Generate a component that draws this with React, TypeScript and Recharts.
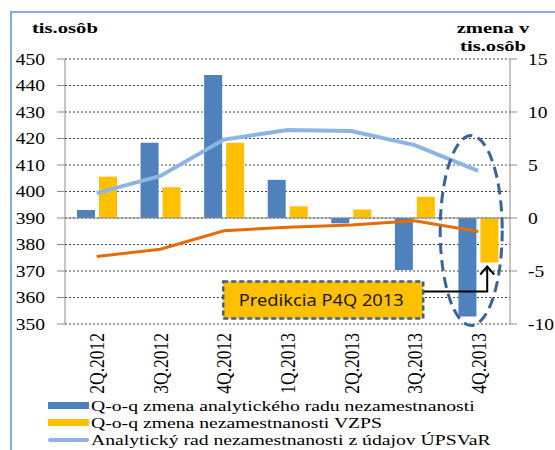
import React from "react";
import {
  ComposedChart,
  Bar,
  Line,
  XAxis,
  YAxis,
  CartesianGrid,
  Legend,
  ReferenceLine,
  ReferenceDot,
} from "recharts";

const kvartaly = ["2Q.2012", "3Q.2012", "4Q.2012", "1Q.2013", "2Q.2013", "3Q.2013", "4Q.2013"];
const zmenaAnalyticky = [0.75, 7.1, 13.5, 3.6, -0.5, -4.9, -9.3];
const zmenaVzps = [3.9, 2.9, 7.1, 1.1, 0.8, 2.0, -4.2];
const radAnalyticky = [399.4, 405.9, 419.6, 423.2, 422.8, 417.5, 407.8];
const radVzps = [375.5, 378.2, 385.2, 386.5, 387.4, 389.0, 384.9];

const lavyTicky = [350, 360, 370, 380, 390, 400, 410, 420, 430, 440, 450];
const pravyTicky = [-10, -5, 0, 5, 10, 15];

const legenda = [
  { label: "Q-o-q zmena analytického radu nezamestnanosti", farba: "#4F81BD", typ: "bar" },
  { label: "Q-o-q zmena nezamestnanosti VZPS", farba: "#FFC000", typ: "bar" },
  { label: "Analytický rad nezamestnanosti z údajov ÚPSVaR", farba: "#8EB4E3", typ: "line" },
];

const data = kvartaly.map((k, i) => ({
  kvartal: k,
  zmenaAnalyticky: zmenaAnalyticky[i],
  zmenaVzps: zmenaVzps[i],
  radAnalyticky: radAnalyticky[i],
  radVzps: radVzps[i],
}));

const SERIF = "'Times New Roman', 'Liberation Serif', 'DejaVu Serif', serif";
const STRETCH = 1.22;

const LavyTick = (props: any) => {
  const { x, y, payload } = props;
  return (
    <text
      transform={`translate(${x},${y}) scale(${STRETCH},1)`}
      textAnchor="end"
      dy="0.35em"
      style={{ fontFamily: SERIF, fontSize: 16 }}
      fill="#000"
    >
      {payload.value}
    </text>
  );
};

const PravyTick = (props: any) => {
  const { x, y, payload } = props;
  return (
    <text
      transform={`translate(${x},${y}) scale(${STRETCH},1)`}
      textAnchor="start"
      dy="0.35em"
      style={{ fontFamily: SERIF, fontSize: 16 }}
      fill="#000"
    >
      {payload.value}
    </text>
  );
};

const KvartalTick = (props: any) => {
  const { x, y, payload } = props;
  return (
    <g transform={`translate(${x},${y})`}>
      <text
        transform={`scale(${STRETCH},1) rotate(-90)`}
        textAnchor="end"
        dy="0.35em"
        style={{ fontFamily: SERIF, fontSize: 17.5 }}
        fill="#000"
      >
        {payload.value}
      </text>
    </g>
  );
};

// elipsa okolo 4Q.2013 + okienko s predikciou a sipka na stlpec VZPS
const Predikcia = (props: any) => {
  const { cx, cy } = props;
  if (cx == null || cy == null) return null;
  const tip = cx + 9;
  return (
    <g>
      <ellipse
        cx={cx - 7}
        cy={cy - 32}
        rx={31}
        ry={95}
        fill="none"
        stroke="#37659A"
        strokeWidth={3}
        strokeDasharray="11 6"
      />
      <polyline
        points={`${cx - 55},${cy + 29} ${tip},${cy + 29} ${tip},${cy + 4}`}
        fill="none"
        stroke="#000"
        strokeWidth={2}
      />
      <polyline
        points={`${tip - 7},${cy + 12} ${tip},${cy + 4} ${tip + 7},${cy + 12}`}
        fill="none"
        stroke="#000"
        strokeWidth={2}
      />
      <rect
        x={cx - 255}
        y={cy + 19}
        width={200}
        height={37}
        fill="#FFC000"
        stroke="#3A5F8B"
        strokeWidth={2.5}
        strokeDasharray="5 3"
      />
      <text
        x={cx - 157}
        y={cy + 38}
        textAnchor="middle"
        dy="0.35em"
        style={{ fontFamily: "'Noto Sans', 'Open Sans', sans-serif", fontSize: 16.5 }}
        textLength={165}
        lengthAdjust="spacingAndGlyphs"
        fill="#1a1a1a"
      >
        Predikcia P4Q 2013
      </text>
    </g>
  );
};

const Legenda = () => (
  <div style={{ fontFamily: SERIF, fontSize: 15.5, color: "#000" }}>
    {legenda.map((l) => (
      <div key={l.label} style={{ display: "flex", alignItems: "center", height: 17 }}>
        <div style={{ width: 41, display: "flex", alignItems: "center" }}>
          <div
            style={{
              width: 41,
              height: l.typ === "bar" ? 7 : 4,
              background: l.farba,
              borderRadius: l.typ === "bar" ? 0 : 2,
            }}
          />
        </div>
        <span
          style={{
            marginLeft: 2,
            whiteSpace: "nowrap",
            display: "inline-block",
            transform: "scaleX(1.27)",
            transformOrigin: "left center",
            lineHeight: "15px",
          }}
        >
          {l.label}
        </span>
      </div>
    ))}
  </div>
);

const titulok: React.CSSProperties = {
  position: "absolute",
  fontFamily: SERIF,
  fontWeight: "bold",
  fontSize: 15.5,
  lineHeight: "18px",
  whiteSpace: "nowrap",
  color: "#000",
};

export default function App() {
  return (
    <div
      style={{
        position: "absolute",
        left: 0,
        top: 0,
        width: 555,
        height: 450,
        overflow: "hidden",
        background: "#fff",
      }}
    >
      <div
        style={{
          position: "absolute",
          left: 10,
          top: 11,
          width: 600,
          height: 500,
          border: "2px solid #86AADC",
        }}
      />
      <div style={{ ...titulok, left: 32, top: 19, transform: "scaleX(1.33)", transformOrigin: "left top" }}>
        tis.osôb
      </div>
      <div
        style={{
          ...titulok,
          left: 493,
          top: 19,
          textAlign: "center",
          transform: "translateX(-50%) scaleX(1.33)",
        }}
      >
        <div>zmena v</div>
        <div>tis.osôb</div>
      </div>
      <div style={{ position: "absolute", left: 0, top: 0 }}>
        <ComposedChart width={555} height={450} data={data} margin={{ top: 59, right: 0, bottom: 0, left: 0 }}>
          <CartesianGrid
            yAxisId="left"
            vertical={false}
            stroke="#444"
            strokeDasharray="2 2"
          />
          <XAxis
            dataKey="kvartal"
            interval={0}
            height={126}
            axisLine={false}
            tickLine={false}
            tickSize={0}
            tickMargin={9}
            tick={<KvartalTick />}
          />
          <YAxis
            yAxisId="left"
            orientation="left"
            width={65}
            domain={[350, 450]}
            ticks={lavyTicky}
            interval={0}
            axisLine={{ stroke: "#8C8C8C" }}
            tickLine={{ stroke: "#8C8C8C" }}
            tickSize={8}
            tickMargin={12}
            tick={<LavyTick />}
          />
          <YAxis
            yAxisId="right"
            orientation="right"
            width={45}
            domain={[-10, 15]}
            ticks={pravyTicky}
            interval={0}
            axisLine={{ stroke: "#8C8C8C" }}
            tickLine={{ stroke: "#8C8C8C" }}
            tickSize={7}
            tickMargin={11}
            tick={<PravyTick />}
          />
          <ReferenceLine yAxisId="right" y={0} stroke="#8C8C8C" strokeWidth={1} />
          <Bar
            yAxisId="right"
            dataKey="zmenaAnalyticky"
            fill="#4F81BD"
            barSize={18}
            isAnimationActive={false}
          />
          <Bar
            yAxisId="right"
            dataKey="zmenaVzps"
            fill="#FFC000"
            barSize={18}
            isAnimationActive={false}
          />
          <Line
            yAxisId="left"
            type="linear"
            dataKey="radVzps"
            stroke="#E46C0A"
            strokeWidth={3}
            dot={false}
            isAnimationActive={false}
          />
          <Line
            yAxisId="left"
            type="linear"
            dataKey="radAnalyticky"
            stroke="#8EB4E3"
            strokeWidth={4}
            dot={false}
            isAnimationActive={false}
          />
          <ReferenceDot
            yAxisId="right"
            x={kvartaly[6]}
            y={zmenaVzps[6]}
            r={0}
            ifOverflow="visible"
            shape={<Predikcia />}
          />
          <Legend
            layout="vertical"
            align="center"
            verticalAlign="middle"
            content={<Legenda />}
            wrapperStyle={{ position: "absolute", left: 48, top: 397, width: 507 }}
          />
        </ComposedChart>
      </div>
    </div>
  );
}
